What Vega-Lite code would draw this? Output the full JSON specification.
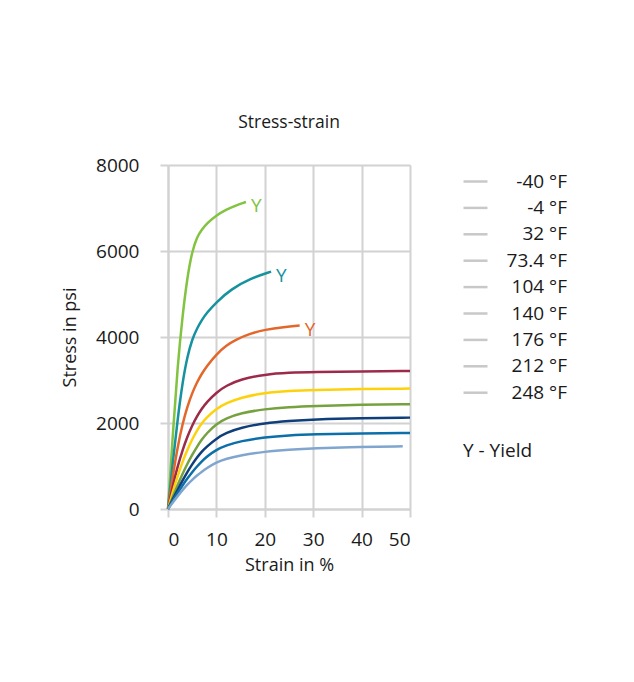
{
  "$schema": "https://vega.github.io/schema/vega-lite/v6.json",
  "width": 242,
  "height": 344,
  "padding": {"left": 61, "top": 113, "right": 5, "bottom": 5},
  "background": "#ffffff",
  "title": {
    "text": "Stress-strain",
    "fontSize": 17.5,
    "fontWeight": "normal",
    "font": "Open Sans",
    "color": "#1a1a1a",
    "offset": 25
  },
  "config": {
    "font": "Open Sans",
    "view": {"stroke": null},
    "axis": {
      "gridColor": "#d2d2d2",
      "gridWidth": 2,
      "domainColor": "#d2d2d2",
      "domainWidth": 2,
      "tickColor": "#d2d2d2",
      "tickWidth": 2,
      "tickSize": 8,
      "labelFont": "Open Sans",
      "labelFontSize": 19,
      "labelColor": "#1a1a1a",
      "titleFont": "Open Sans",
      "titleFontSize": 18,
      "titleFontWeight": "normal",
      "titleColor": "#1a1a1a"
    }
  },
  "resolve": {"scale": {"color": "independent"}, "legend": {"color": "independent"}},
  "datasets": {
    "curves": [
      {"series": "-40 °F", "strain": 0, "stress": 0},
      {"series": "-40 °F", "strain": 1, "stress": 1750},
      {"series": "-40 °F", "strain": 2, "stress": 3350},
      {"series": "-40 °F", "strain": 3, "stress": 4500},
      {"series": "-40 °F", "strain": 4, "stress": 5400},
      {"series": "-40 °F", "strain": 5, "stress": 6000},
      {"series": "-40 °F", "strain": 6, "stress": 6330},
      {"series": "-40 °F", "strain": 7, "stress": 6500},
      {"series": "-40 °F", "strain": 8, "stress": 6640},
      {"series": "-40 °F", "strain": 10, "stress": 6830},
      {"series": "-40 °F", "strain": 12, "stress": 6960},
      {"series": "-40 °F", "strain": 14, "stress": 7060},
      {"series": "-40 °F", "strain": 16.1, "stress": 7140},

      {"series": "-4 °F", "strain": 0, "stress": 0},
      {"series": "-4 °F", "strain": 1, "stress": 1100},
      {"series": "-4 °F", "strain": 2, "stress": 2100},
      {"series": "-4 °F", "strain": 3, "stress": 2950},
      {"series": "-4 °F", "strain": 4, "stress": 3550},
      {"series": "-4 °F", "strain": 5, "stress": 3950},
      {"series": "-4 °F", "strain": 6, "stress": 4200},
      {"series": "-4 °F", "strain": 7, "stress": 4400},
      {"series": "-4 °F", "strain": 8, "stress": 4560},
      {"series": "-4 °F", "strain": 10, "stress": 4810},
      {"series": "-4 °F", "strain": 13, "stress": 5110},
      {"series": "-4 °F", "strain": 17, "stress": 5360},
      {"series": "-4 °F", "strain": 21.3, "stress": 5520},

      {"series": "32 °F", "strain": 0, "stress": 0},
      {"series": "32 °F", "strain": 1, "stress": 780},
      {"series": "32 °F", "strain": 2, "stress": 1450},
      {"series": "32 °F", "strain": 3, "stress": 1980},
      {"series": "32 °F", "strain": 4, "stress": 2380},
      {"series": "32 °F", "strain": 5, "stress": 2700},
      {"series": "32 °F", "strain": 6, "stress": 2950},
      {"series": "32 °F", "strain": 7, "stress": 3150},
      {"series": "32 °F", "strain": 8, "stress": 3320},
      {"series": "32 °F", "strain": 10, "stress": 3600},
      {"series": "32 °F", "strain": 12, "stress": 3800},
      {"series": "32 °F", "strain": 14, "stress": 3940},
      {"series": "32 °F", "strain": 17, "stress": 4080},
      {"series": "32 °F", "strain": 20, "stress": 4170},
      {"series": "32 °F", "strain": 24, "stress": 4235},
      {"series": "32 °F", "strain": 27.2, "stress": 4265},

      {"series": "73.4 °F", "strain": 0, "stress": 0},
      {"series": "73.4 °F", "strain": 1, "stress": 543},
      {"series": "73.4 °F", "strain": 2, "stress": 998},
      {"series": "73.4 °F", "strain": 3, "stress": 1370},
      {"series": "73.4 °F", "strain": 4, "stress": 1681},
      {"series": "73.4 °F", "strain": 5, "stress": 1943},
      {"series": "73.4 °F", "strain": 6, "stress": 2158},
      {"series": "73.4 °F", "strain": 7, "stress": 2334},
      {"series": "73.4 °F", "strain": 8, "stress": 2485},
      {"series": "73.4 °F", "strain": 10, "stress": 2711},
      {"series": "73.4 °F", "strain": 12, "stress": 2867},
      {"series": "73.4 °F", "strain": 15, "stress": 3016},
      {"series": "73.4 °F", "strain": 20, "stress": 3130},
      {"series": "73.4 °F", "strain": 25, "stress": 3170},
      {"series": "73.4 °F", "strain": 30, "stress": 3185},
      {"series": "73.4 °F", "strain": 40, "stress": 3200},
      {"series": "73.4 °F", "strain": 50, "stress": 3210},

      {"series": "104 °F", "strain": 0, "stress": 0},
      {"series": "104 °F", "strain": 1, "stress": 410},
      {"series": "104 °F", "strain": 2, "stress": 770},
      {"series": "104 °F", "strain": 3, "stress": 1100},
      {"series": "104 °F", "strain": 4, "stress": 1380},
      {"series": "104 °F", "strain": 5, "stress": 1620},
      {"series": "104 °F", "strain": 6, "stress": 1830},
      {"series": "104 °F", "strain": 7, "stress": 2000},
      {"series": "104 °F", "strain": 8, "stress": 2130},
      {"series": "104 °F", "strain": 10, "stress": 2330},
      {"series": "104 °F", "strain": 12, "stress": 2460},
      {"series": "104 °F", "strain": 15, "stress": 2590},
      {"series": "104 °F", "strain": 20, "stress": 2705},
      {"series": "104 °F", "strain": 25, "stress": 2750},
      {"series": "104 °F", "strain": 30, "stress": 2770},
      {"series": "104 °F", "strain": 40, "stress": 2790},
      {"series": "104 °F", "strain": 50, "stress": 2800},

      {"series": "140 °F", "strain": 0, "stress": 0},
      {"series": "140 °F", "strain": 1, "stress": 285},
      {"series": "140 °F", "strain": 2, "stress": 560},
      {"series": "140 °F", "strain": 3, "stress": 820},
      {"series": "140 °F", "strain": 4, "stress": 1050},
      {"series": "140 °F", "strain": 5, "stress": 1260},
      {"series": "140 °F", "strain": 6, "stress": 1450},
      {"series": "140 °F", "strain": 7, "stress": 1620},
      {"series": "140 °F", "strain": 8, "stress": 1760},
      {"series": "140 °F", "strain": 10, "stress": 1980},
      {"series": "140 °F", "strain": 12, "stress": 2110},
      {"series": "140 °F", "strain": 15, "stress": 2230},
      {"series": "140 °F", "strain": 20, "stress": 2325},
      {"series": "140 °F", "strain": 25, "stress": 2370},
      {"series": "140 °F", "strain": 30, "stress": 2395},
      {"series": "140 °F", "strain": 40, "stress": 2425},
      {"series": "140 °F", "strain": 50, "stress": 2435},

      {"series": "176 °F", "strain": 0, "stress": 0},
      {"series": "176 °F", "strain": 1, "stress": 230},
      {"series": "176 °F", "strain": 2, "stress": 450},
      {"series": "176 °F", "strain": 3, "stress": 660},
      {"series": "176 °F", "strain": 4, "stress": 860},
      {"series": "176 °F", "strain": 5, "stress": 1040},
      {"series": "176 °F", "strain": 6, "stress": 1200},
      {"series": "176 °F", "strain": 7, "stress": 1340},
      {"series": "176 °F", "strain": 8, "stress": 1450},
      {"series": "176 °F", "strain": 10, "stress": 1640},
      {"series": "176 °F", "strain": 12, "stress": 1770},
      {"series": "176 °F", "strain": 15, "stress": 1890},
      {"series": "176 °F", "strain": 20, "stress": 2000},
      {"series": "176 °F", "strain": 25, "stress": 2050},
      {"series": "176 °F", "strain": 30, "stress": 2085},
      {"series": "176 °F", "strain": 40, "stress": 2115},
      {"series": "176 °F", "strain": 50, "stress": 2125},

      {"series": "212 °F", "strain": 0, "stress": 0},
      {"series": "212 °F", "strain": 1, "stress": 195},
      {"series": "212 °F", "strain": 2, "stress": 380},
      {"series": "212 °F", "strain": 3, "stress": 550},
      {"series": "212 °F", "strain": 4, "stress": 710},
      {"series": "212 °F", "strain": 5, "stress": 860},
      {"series": "212 °F", "strain": 6, "stress": 990},
      {"series": "212 °F", "strain": 7, "stress": 1110},
      {"series": "212 °F", "strain": 8, "stress": 1220},
      {"series": "212 °F", "strain": 10, "stress": 1380},
      {"series": "212 °F", "strain": 12, "stress": 1480},
      {"series": "212 °F", "strain": 15, "stress": 1580},
      {"series": "212 °F", "strain": 20, "stress": 1670},
      {"series": "212 °F", "strain": 25, "stress": 1715},
      {"series": "212 °F", "strain": 30, "stress": 1738},
      {"series": "212 °F", "strain": 40, "stress": 1758},
      {"series": "212 °F", "strain": 50, "stress": 1768},

      {"series": "248 °F", "strain": 0, "stress": 0},
      {"series": "248 °F", "strain": 1, "stress": 155},
      {"series": "248 °F", "strain": 2, "stress": 300},
      {"series": "248 °F", "strain": 3, "stress": 440},
      {"series": "248 °F", "strain": 4, "stress": 570},
      {"series": "248 °F", "strain": 5, "stress": 680},
      {"series": "248 °F", "strain": 6, "stress": 780},
      {"series": "248 °F", "strain": 7, "stress": 870},
      {"series": "248 °F", "strain": 8, "stress": 950},
      {"series": "248 °F", "strain": 10, "stress": 1090},
      {"series": "248 °F", "strain": 12, "stress": 1170},
      {"series": "248 °F", "strain": 15, "stress": 1250},
      {"series": "248 °F", "strain": 20, "stress": 1335},
      {"series": "248 °F", "strain": 25, "stress": 1380},
      {"series": "248 °F", "strain": 30, "stress": 1410},
      {"series": "248 °F", "strain": 40, "stress": 1445},
      {"series": "248 °F", "strain": 48.5, "stress": 1458}
    ],
    "yield": [
      {"series": "-40 °F", "strain": 16.1, "stress": 7140, "mark": "Y", "note": "Y - Yield"},
      {"series": "-4 °F", "strain": 21.3, "stress": 5520, "mark": "Y", "note": "Y - Yield"},
      {"series": "32 °F", "strain": 27.2, "stress": 4265, "mark": "Y", "note": "Y - Yield"}
    ]
  },
  "layer": [
    {
      "data": {"name": "curves"},
      "mark": {"type": "line", "strokeWidth": 2.5, "interpolate": "basis"},
      "encoding": {
        "x": {
          "field": "strain",
          "type": "quantitative",
          "title": "Strain in %",
          "scale": {"domain": [0, 50], "nice": false},
          "axis": {"values": [0, 10, 20, 30, 40, 50], "format": "d", "labelPadding": 13, "titlePadding": 7, "grid": true}
        },
        "y": {
          "field": "stress",
          "type": "quantitative",
          "title": "Stress in psi",
          "scale": {"domain": [0, 8000], "nice": false},
          "axis": {"values": [0, 2000, 4000, 6000, 8000], "format": "d", "labelPadding": 21, "titlePadding": 16, "grid": true}
        },
        "color": {
          "field": "series",
          "type": "nominal",
          "scale": {
            "domain": ["-40 °F", "-4 °F", "32 °F", "73.4 °F", "104 °F", "140 °F", "176 °F", "212 °F", "248 °F"],
            "range": ["#82c341", "#16929f", "#e3672b", "#9c2a4a", "#fdd20c", "#76a13f", "#0f3e7b", "#0c6fa9", "#80a6cf"]
          },
          "legend": null
        }
      }
    },
    {
      "data": {"name": "curves"},
      "transform": [{"filter": "datum.strain === 0"}],
      "mark": {"type": "line", "strokeWidth": 2.5},
      "encoding": {
        "x": {"field": "strain", "type": "quantitative"},
        "y": {"field": "stress", "type": "quantitative"},
        "color": {
          "field": "series",
          "type": "nominal",
          "scale": {
            "domain": ["-40 °F", "-4 °F", "32 °F", "73.4 °F", "104 °F", "140 °F", "176 °F", "212 °F", "248 °F"],
            "range": ["#c8c8c8", "#c8c8c8", "#c8c8c8", "#c8c8c8", "#c8c8c8", "#c8c8c8", "#c8c8c8", "#c8c8c8", "#c8c8c8"]
          },
          "legend": {
            "title": null,
            "orient": "none",
            "legendX": 294,
            "legendY": 3,
            "symbolType": "stroke",
            "symbolSize": 576,
            "symbolStrokeWidth": 2.5,
            "labelFont": "Open Sans",
            "labelFontSize": 19,
            "labelColor": "#1a1a1a",
            "labelAlign": "right",
            "labelOffset": 78,
            "rowPadding": 2.4
          }
        }
      }
    },
    {
      "data": {"name": "yield"},
      "mark": {"type": "text", "align": "left", "baseline": "middle", "dx": 5, "dy": 4, "fontSize": 19, "font": "Open Sans"},
      "encoding": {
        "x": {"field": "strain", "type": "quantitative"},
        "y": {"field": "stress", "type": "quantitative"},
        "text": {"field": "mark"},
        "color": {
          "field": "series",
          "type": "nominal",
          "scale": {
            "domain": ["-40 °F", "-4 °F", "32 °F", "73.4 °F", "104 °F", "140 °F", "176 °F", "212 °F", "248 °F"],
            "range": ["#82c341", "#16929f", "#e3672b", "#9c2a4a", "#fdd20c", "#76a13f", "#0f3e7b", "#0c6fa9", "#80a6cf"]
          },
          "legend": null
        },
        "opacity": {
          "field": "note",
          "type": "ordinal",
          "scale": {"range": [1, 1]},
          "legend": {
            "title": null,
            "orient": "none",
            "legendX": 276,
            "legendY": 276,
            "symbolSize": 0,
            "symbolOpacity": 0,
            "labelOffset": 0,
            "labelFont": "Open Sans",
            "labelFontSize": 19,
            "labelColor": "#1a1a1a"
          }
        }
      }
    }
  ]
}
